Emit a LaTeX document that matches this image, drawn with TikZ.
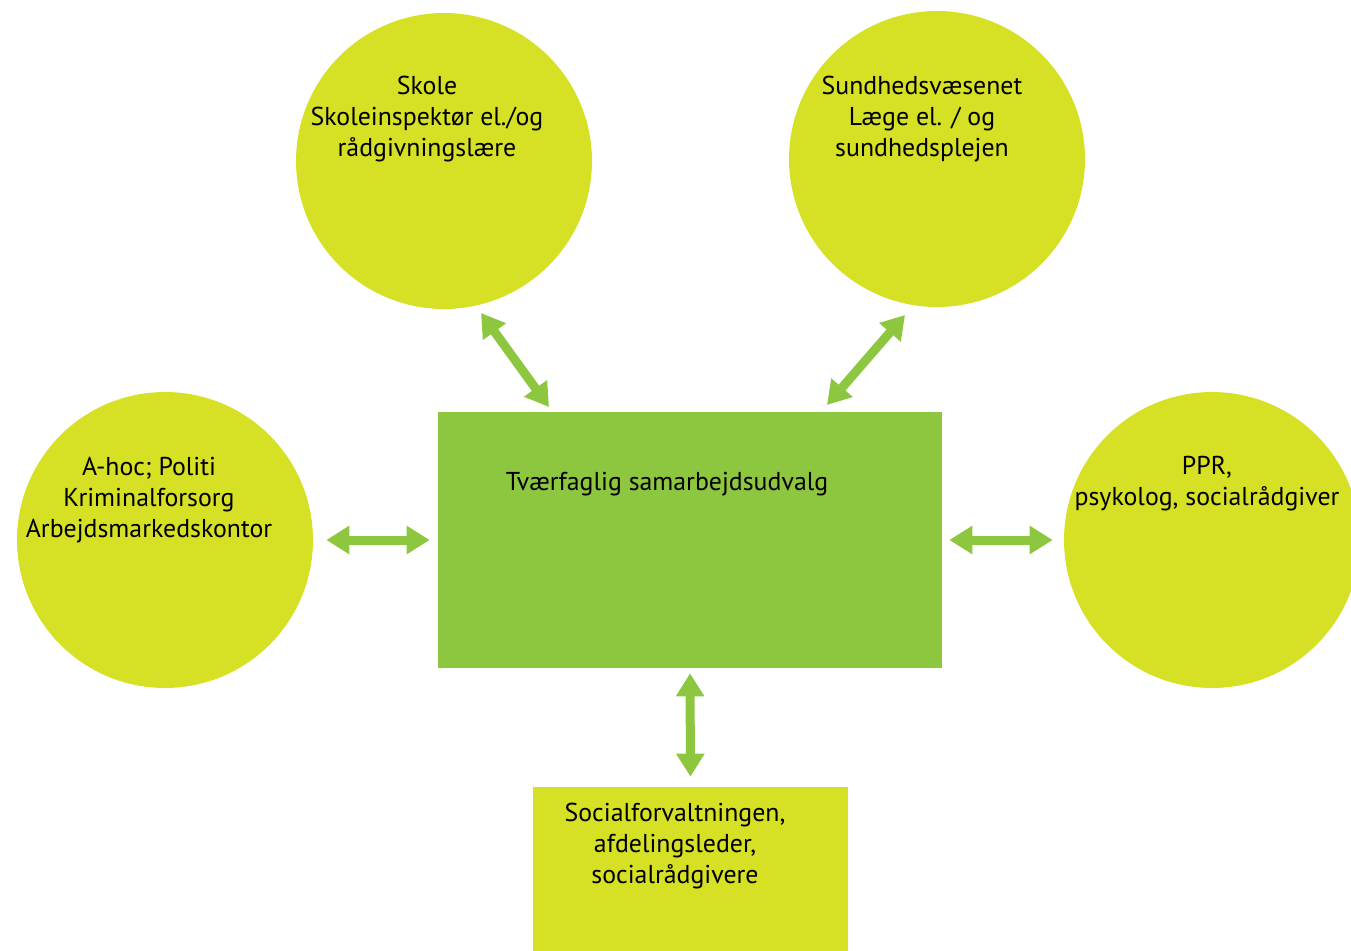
\documentclass[tikz,border=0pt]{standalone}
\usepackage{fontspec}
\setmainfont{PT Sans}
\usetikzlibrary{arrows.meta}
\definecolor{gulgroen}{RGB}{214,224,36}
\definecolor{groen}{RGB}{141,198,63}

\begin{document}
\begin{tikzpicture}[x=0.02cm, y=-0.02cm,
  cirkel/.style={circle, fill=gulgroen, minimum size=5.92cm, inner sep=0pt},
  tekst/.style={align=center, inner sep=0pt, font=\fontsize{14.7}{17.6}\selectfont},
  pil/.style={draw=groen, line width=1.8mm, {Triangle[width=5.4mm 0 0, length=4.6mm 0 0]}-{Triangle[width=5.4mm 0 0, length=4.6mm 0 0]}}]

\clip (0,0) rectangle (1351,950);

% cirkler
\node[cirkel] (skole) at (444,161) {};
\node[cirkel] (sundhed) at (937,159) {};
\node[cirkel] (ahoc) at (165,540) {};
\node[cirkel] (ppr) at (1212,540) {};

% udvalget i midten og forvaltningen nederst
\node[fill=groen, minimum width=10.08cm, minimum height=5.12cm, inner sep=0pt] (udvalg) at (690,540) {};
\node[fill=gulgroen, minimum width=6.3cm, minimum height=4.4cm, inner sep=0pt] (social) at (690.5,897) {};

% tekster
\node[tekst] (skoletekst) at (427,119) {Skole\\Skoleinspektør el./og\\rådgivningslære};
\node[tekst] (sundhedtekst) at (922,119) {Sundhedsvæsenet\\Læge el. / og\\sundhedsplejen};
\node[tekst] (ahoctekst) at (149,500) {A-hoc; Politi\\Kriminalforsorg\\Arbejdsmarkedskontor};
\node[tekst] (pprtekst) at (1207,484) {PPR,\\psykolog, socialrådgiver};
\node[tekst] (udvalgtekst) at (667,484) {Tværfaglig samarbejdsudvalg};
\node[tekst] (socialtekst) at (675,846) {Socialforvaltningen,\\afdelingsleder,\\socialrådgivere};

% endepunkter for de skrå pile
\coordinate (skolepil) at (481,313);
\coordinate (udvalgpil1) at (549,407);
\coordinate (sundhedpil) at (905,315);
\coordinate (udvalgpil2) at (827,405);

% pile
\draw[pil] (skolepil) -- (udvalgpil1);
\draw[pil] (sundhedpil) -- (udvalgpil2);
\draw[pil, shorten <=0.26cm, shorten >=0.16cm] (ahoc.east) -- (udvalg.west);
\draw[pil, shorten <=0.14cm, shorten >=0.22cm] (udvalg.east) -- (ppr.west);
\draw[pil, shorten <=0.1cm, shorten >=0.2cm] (udvalg.south) -- (social.north);

\end{tikzpicture}
\end{document}
